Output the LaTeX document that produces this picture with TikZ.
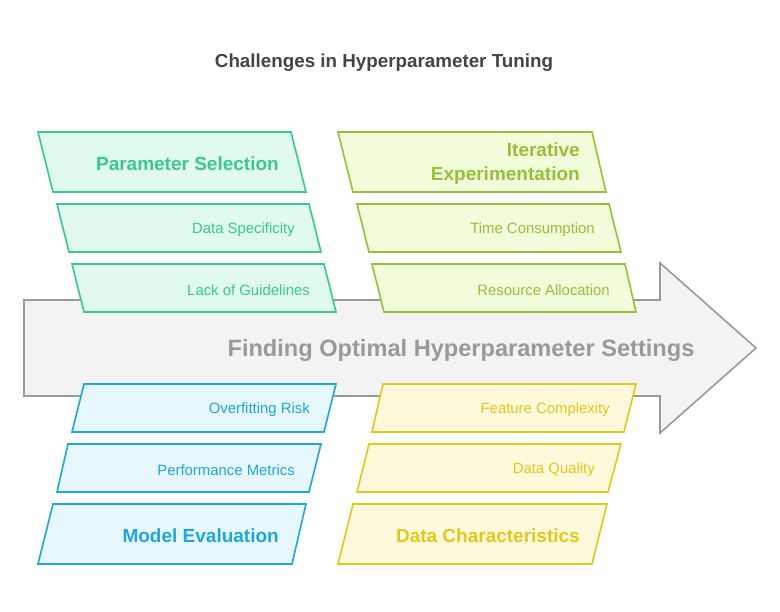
\documentclass[tikz,border=0pt]{standalone}
\usepackage{fontspec}
\setmainfont{Liberation Sans}
\definecolor{grnS}{HTML}{3CC88A}
\definecolor{grnF}{HTML}{E0FBEE}
\definecolor{limS}{HTML}{96C03A}
\definecolor{limF}{HTML}{F1FDDA}
\definecolor{bluS}{HTML}{20A7D8}
\definecolor{bluF}{HTML}{E6F7FD}
\definecolor{yelS}{HTML}{E0C81C}
\definecolor{yelF}{HTML}{FEF9DA}
\definecolor{arrS}{HTML}{999999}
\definecolor{arrF}{HTML}{F3F3F3}
\definecolor{ttl}{HTML}{444444}
\tikzset{
  boxg/.style={draw=grnS,fill=grnF,line width=1.6pt,line join=miter},
  boxl/.style={draw=limS,fill=limF,line width=1.6pt,line join=miter},
  boxb/.style={draw=bluS,fill=bluF,line width=1.6pt,line join=miter},
  boxy/.style={draw=yelS,fill=yelF,line width=1.6pt,line join=miter},
  sublbl/.style={anchor=east,inner sep=0pt,yshift=-2pt,font=\fontsize{14.9}{17}\selectfont},
  mainlbl/.style={anchor=east,inner sep=0pt,yshift=-2pt,align=right,font=\fontsize{19}{24}\selectfont\bfseries},
}
\begin{document}
\begin{tikzpicture}[x=1pt,y=-1pt]
\useasboundingbox (0,0) rectangle (780,612);
% title
\node[font=\fontsize{18.8}{22}\selectfont\bfseries,text=ttl] (title) at (384,63) {Challenges in Hyperparameter Tuning};
% main arrow
\draw[draw=arrS,fill=arrF,line width=1.6pt,line join=miter]
  (24,300) -- (660,300) -- (660,263) -- (756,348) -- (660,433) -- (660,396) -- (24,396) -- cycle;
\node[font=\fontsize{23.6}{28}\selectfont\bfseries,text=arrS] (main) at (461,350) {Finding Optimal Hyperparameter Settings};
% green (top left)
\draw[boxg] (38,132) -- (291,132) -- (306,192) -- (53,192) -- cycle;
\node[mainlbl,text=grnS] (ps) at (279,162) {Parameter Selection};
\draw[boxg] (57,204) -- (309,204) -- (321,252) -- (69,252) -- cycle;
\node[sublbl,text=grnS] (ds) at (295,228) {Data Specificity};
\draw[boxg] (72,264) -- (324,264) -- (336,312) -- (84,312) -- cycle;
\node[sublbl,text=grnS] (lg) at (310,288) {Lack of Guidelines};
% lime (top right)
\draw[boxl] (338,132) -- (592,132) -- (606,192) -- (353,192) -- cycle;
\node[mainlbl,text=limS] (ie) at (580,162) {Iterative\\Experimentation};
\draw[boxl] (357,204) -- (609,204) -- (621,252) -- (369,252) -- cycle;
\node[sublbl,text=limS] (tc) at (595,228) {Time Consumption};
\draw[boxl] (372,264) -- (625,264) -- (636,312) -- (384,312) -- cycle;
\node[sublbl,text=limS] (ra) at (610,288) {Resource Allocation};
% blue (bottom left)
\draw[boxb] (84,384) -- (336,384) -- (324,432) -- (72,432) -- cycle;
\node[sublbl,text=bluS] (or) at (310,408) {Overfitting Risk};
\draw[boxb] (68,444) -- (321,444) -- (309,492) -- (57,492) -- cycle;
\node[sublbl,text=bluS] (pm) at (295,468) {Performance Metrics};
\draw[boxb] (53,504) -- (306,504) -- (292,564) -- (38,564) -- cycle;
\node[mainlbl,text=bluS] (me) at (279,534) {Model Evaluation};
% yellow (bottom right)
\draw[boxy] (383,384) -- (636,384) -- (624,432) -- (372,432) -- cycle;
\node[sublbl,text=yelS] (fc) at (610,408) {Feature Complexity};
\draw[boxy] (369,444) -- (621,444) -- (608,492) -- (357,492) -- cycle;
\node[sublbl,text=yelS] (dq) at (595,468) {Data Quality};
\draw[boxy] (353,504) -- (607,504) -- (592,564) -- (338,564) -- cycle;
\node[mainlbl,text=yelS] (dc) at (580,534) {Data Characteristics};
\end{tikzpicture}
\end{document}
